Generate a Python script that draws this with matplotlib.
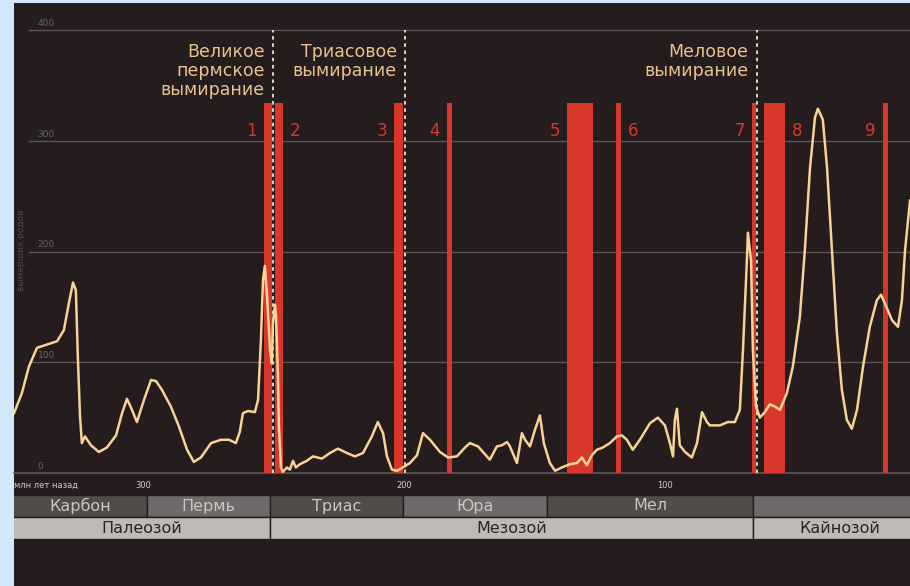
import matplotlib.pyplot as plt
from matplotlib.patches import Rectangle

plt.rcParams['font.family'] = ['DejaVu Sans']

# кривая вымираний: млн лет назад / вымерших родов
age = [349.4, 346.4, 343.7, 340.6, 336.8, 332.9, 330.3, 328.4, 326.8, 325.7,
       324.9, 324.1, 323.4, 322.2, 319.9, 316.9, 313.8, 310.3, 308.0, 306.1,
       304.2, 302.3, 299.6, 296.9, 295.0, 292.7, 289.3, 286.2, 283.1, 280.5,
       277.8, 273.9, 270.1, 267.0, 264.4, 262.9, 261.7, 259.8, 257.1, 255.9,
       254.8, 254.0, 253.3, 252.5, 251.3, 250.6, 250.2, 249.4, 249.0, 248.3,
       247.9, 247.1, 246.4, 244.8, 243.7, 242.5, 241.4, 239.8, 237.2, 234.9,
       231.4, 228.4, 225.3, 221.8, 218.8, 215.7, 212.3, 210.0, 208.0, 206.5,
       204.6, 202.7, 200.4, 197.7, 195.0, 192.7, 190.0, 186.2, 183.1, 179.7,
       176.6, 174.7, 171.6, 167.1, 164.4, 162.5, 160.5, 159.4, 156.7, 154.8,
       153.6, 151.7, 149.8, 147.9, 146.4, 144.1, 142.1, 139.5, 136.4, 133.7,
       131.8, 129.9, 128.0, 126.1, 123.8, 121.1, 118.4, 116.5, 114.6, 112.3,
       109.6, 105.7, 102.7, 100.0, 98.1, 96.9, 96.2, 95.4, 94.3, 92.3,
       89.7, 87.7, 85.8, 83.9, 82.8, 78.9, 75.9, 73.2, 71.3, 70.1,
       68.6, 68.2, 67.0, 66.3, 65.1, 63.6, 61.7, 59.8, 57.9, 55.9,
       53.3, 51.0, 48.3, 46.4, 44.4, 42.5, 41.4, 39.5, 37.9, 36.0,
       34.1, 32.2, 30.3, 28.4, 26.4, 24.1, 21.5, 18.8, 17.2, 15.7,
       13.0, 10.7, 9.2, 8.0, 6.1]
genera = [54, 72, 96, 113, 116, 119, 129, 153, 172, 165,
          102, 51, 27, 33, 25, 19, 23, 34, 54, 67,
          57, 46, 66, 84, 83, 75, 60, 42, 21, 10,
          14, 27, 30, 30, 27, 37, 54, 56, 55, 66,
          120, 174, 187, 162, 111, 99, 135, 152, 141, 90,
          42, 5, 1, 5, 3, 11, 5, 8, 11, 15,
          13, 18, 22, 18, 15, 18, 33, 46, 36, 15,
          3, 2, 5, 9, 16, 36, 30, 19, 14, 15,
          23, 27, 24, 12, 24, 25, 28, 24, 9, 36,
          30, 24, 39, 52, 27, 9, 2, 5, 8, 9,
          14, 7, 16, 21, 23, 27, 33, 34, 30, 21,
          30, 45, 50, 43, 27, 15, 48, 58, 25, 19,
          14, 27, 55, 46, 43, 43, 46, 46, 57, 111,
          192, 217, 192, 111, 60, 50, 55, 62, 60, 57,
          72, 96, 141, 201, 276, 321, 329, 319, 276, 201,
          126, 75, 48, 40, 57, 96, 132, 156, 161, 153,
          138, 132, 156, 201, 246]

# красные полосы (эпизоды вымирания)
bar_start = [253.6, 249.4, 203.8, 183.5, 137.5, 118.8, 66.7, 62.1, 16.5]
bar_end = [250.6, 246.4, 200.4, 181.6, 127.6, 116.9, 65.1, 54.0, 14.6]
bar_nums = ['1', '2', '3', '4', '5', '6', '7', '8', '9']
bar_side = ['l', 'r', 'l', 'l', 'l', 'r', 'l', 'r', 'l']
bar_top = 334

# большие вымирания
event_age = [250.2, 199.6, 64.8]
event_text = ['Великое\nпермское\nвымирание', 'Триасовое\nвымирание',
              'Меловое\nвымирание']

# шкала периодов и эр
periods = ['Карбон', 'Пермь', 'Триас', 'Юра', 'Мел', '']
period_start = [359, 298.5, 251.3, 200.4, 145, 66.3]
period_end = [298.5, 251.3, 200.4, 145, 66.3, 0]
eras = ['Палеозой', 'Мезозой', 'Кайнозой']
era_start = [359, 251.3, 66.3]
era_end = [251.3, 66.3, 0]

y_ticks = [0, 100, 200, 300, 400]
x_ticks = [300, 200, 100]

dark = '#241c1d'
grid = '#5c5656'
red = '#d9362b'
cream = '#f7d394'
tan = '#e6c48c'

W, H = 910, 586
fig = plt.figure(figsize=(W / 100, H / 100), dpi=100)
fig.patch.set_facecolor('#d3e9fb')
fig.patches.append(Rectangle((14 / W, 0), 1, 583 / H, transform=fig.transFigure,
                             facecolor=dark, edgecolor='none', zorder=-10))

ax = fig.add_axes([14 / W, 113 / H, 896 / W, 470 / H])
ax.set_facecolor(dark)
ax.set_xlim(349.4, 6.1)
ax.set_ylim(0, 424.4)
for s in ax.spines.values():
    s.set_visible(False)
ax.set_xticks([])
ax.set_yticks([])

# сетка и подписи оси y
for v in y_ticks:
    if v == 0:
        ax.axhline(0, color=grid, lw=1.2, zorder=1, clip_on=False)
    else:
        ax.axhline(v, xmin=15 / 896, color=grid, lw=1, zorder=1)
    ax.annotate(str(v), xy=(0, v), xycoords=('axes fraction', 'data'),
                xytext=(17, 1.5), textcoords='offset points',
                ha='left', va='bottom', fontsize=6.5, color='#686262')

ax.text(8 / 896, 201 / 424.4, 'вымерших родов', transform=ax.transAxes,
        rotation=90, ha='center', va='center', fontsize=6.5, color='#4f4848')

# полосы вымираний
for s, e, n, side in zip(bar_start, bar_end, bar_nums, bar_side):
    ax.bar((s + e) / 2, bar_top, width=s - e, color=red, zorder=2)
    if side == 'l':
        ax.annotate(n, xy=(s, 309), xytext=(-5, 0), textcoords='offset points',
                    ha='right', va='center', fontsize=12, color=red)
    else:
        ax.annotate(n, xy=(e, 309), xytext=(5, 0), textcoords='offset points',
                    ha='left', va='center', fontsize=12, color=red)

# пунктир и подписи больших вымираний
for a, t in zip(event_age, event_text):
    ax.plot([a, a], [0, 400], color='#eee2cf', lw=1.3, ls=(0, (2, 2)), zorder=3)
    ax.annotate(t, xy=(a, 400), xytext=(-6, -9), textcoords='offset points',
                ha='right', va='top', fontsize=12.5, color=tan,
                linespacing=1.1, multialignment='right')

ax.plot(age, genera, color=cream, lw=1.8, zorder=4, solid_joinstyle='round')

# подписи оси x
for v in x_ticks:
    ax.annotate(str(v), xy=(v, 0), xytext=(0, -9), textcoords='offset points',
                ha='center', va='center', fontsize=6, color='#d6d2d0',
                annotation_clip=False)
ax.annotate('млн лет назад', xy=(0, 0), xycoords='axes fraction',
            xytext=(0, -9), textcoords='offset points',
            ha='left', va='center', fontsize=6, color='#cfcbc9')

# шкала периодов и эр
bx = fig.add_axes([14 / W, 47 / H, 896 / W, 44 / H])
bx.set_xlim(ax.get_xlim())
bx.set_ylim(0, 2)
bx.axis('off')
lo, hi = ax.get_xlim()
period_colors = ['#514b4a', '#6e6a69'] * 3
bx.barh(1.5, [e - s for s, e in zip(period_start, period_end)], left=period_start,
        height=1, color=period_colors, edgecolor=dark, lw=1)
bx.barh(0.5, [e - s for s, e in zip(era_start, era_end)], left=era_start,
        height=1, color='#bdbab8', edgecolor=dark, lw=1)
for name, s, e in zip(periods, period_start, period_end):
    c = (min(s, lo) + max(e, 0)) / 2
    bx.text(c, 1.5, name, ha='center', va='center', fontsize=11.5,
            color='#cac6c4')
for name, s, e in zip(eras, era_start, era_end):
    c = (min(s, lo) + e) / 2
    bx.text(c, 0.48, name, ha='center', va='center', fontsize=11.5,
            color='#2a2425')

fig.savefig('out.png', dpi=100, facecolor=fig.get_facecolor())
